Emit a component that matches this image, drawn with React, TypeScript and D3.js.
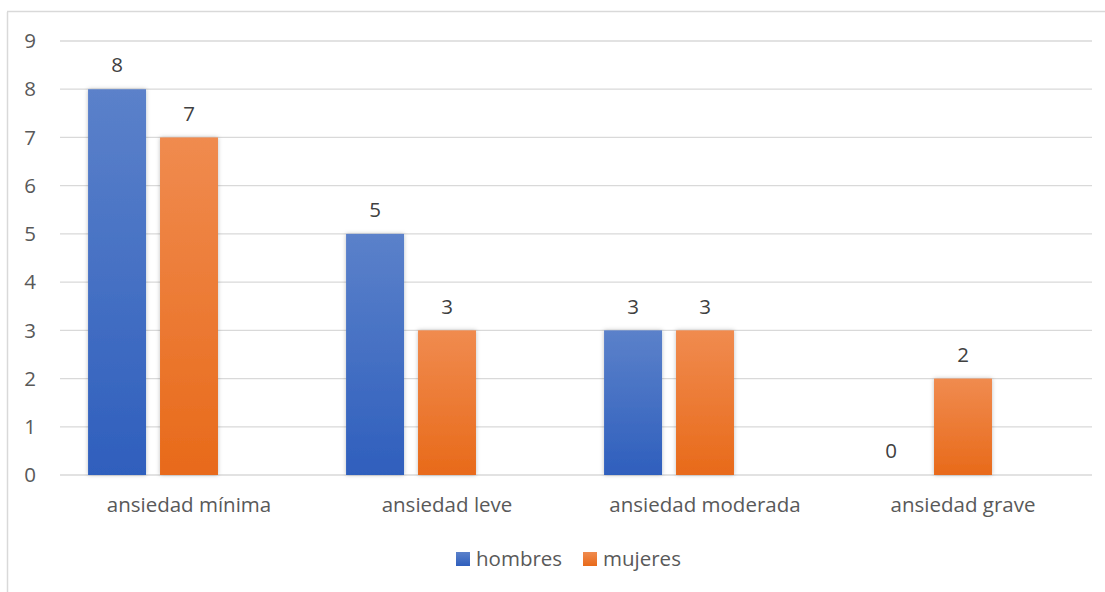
import React from "react";
import * as d3 from "d3";

const categories = ["ansiedad mínima", "ansiedad leve", "ansiedad moderada", "ansiedad grave"];
const hombres = [8, 5, 3, 0];
const mujeres = [7, 3, 3, 2];
const yTicks = [0, 1, 2, 3, 4, 5, 6, 7, 8, 9];
const seriesNames = ["hombres", "mujeres"];

const W = 1105;
const H = 592;
const plotLeft = 60;
const plotRight = 1092;
const plotTop = 41;
const plotBottom = 475;
const FONT = "'Open Sans', sans-serif";
const TXT = "#595959";
const FS = 20.5;

export default function App() {
  const x = d3.scaleBand<string>().domain(categories).range([plotLeft, plotRight]).padding(0);
  const y = d3.scaleLinear().domain([0, 9]).range([plotBottom, plotTop]);
  const bw = x.bandwidth();
  // clustered with three slots (third slot empty), as in the source
  const inner = d3.scaleBand<string>().domain(["h", "m", "_"]).range([0, bw]).paddingInner(14 / 72).paddingOuter(0.39);
  const barW = inner.bandwidth();
  const series = [
    { key: "h", values: hombres, grad: "gBlue" },
    { key: "m", values: mujeres, grad: "gOrange" },
  ];
  return (
    <svg width={W} height={H} style={{ position: "absolute", left: 0, top: 0, background: "#fff" }}>
      <defs>
        <linearGradient id="gBlue" x1="0" y1="0" x2="0" y2="1">
          <stop offset="0" stopColor="#5b81ca" />
          <stop offset="1" stopColor="#2f5fbd" />
        </linearGradient>
        <linearGradient id="gOrange" x1="0" y1="0" x2="0" y2="1">
          <stop offset="0" stopColor="#f08b4f" />
          <stop offset="1" stopColor="#e86a1a" />
        </linearGradient>
        <filter id="shadow" x="-20%" y="-5%" width="140%" height="110%">
          <feDropShadow dx="0" dy="0" stdDeviation="2" floodColor="#000" floodOpacity="0.25" />
        </filter>
      </defs>
      <rect x={0} y={0} width={W} height={H} fill="#fff" />
      <line x1={7.5} y1={12} x2={7.5} y2={H} stroke="#d9d9d9" strokeWidth={1.5} />
      <line x1={7} y1={11.5} x2={W} y2={11.5} stroke="#d9d9d9" strokeWidth={1.5} />
      {yTicks.map((t) => (
        <g key={t}>
          <line x1={plotLeft} x2={plotRight} y1={y(t)} y2={y(t)} stroke="#d9d9d9" strokeWidth={1.3} />
          <text x={36} y={y(t)} dy="0.35em" textAnchor="end" fontFamily={FONT} fontSize={FS} fill={TXT}>
            {t}
          </text>
        </g>
      ))}
      {categories.map((c, i) => (
        <g key={c}>
          {series.map((s) => {
            const v = s.values[i];
            const bx = (x(c) as number) + (inner(s.key) as number);
            return (
              <g key={s.key}>
                {v > 0 && (
                  <rect
                    x={bx}
                    y={y(v)}
                    width={barW}
                    height={y(0) - y(v)}
                    fill={`url(#${s.grad})`}
                    filter="url(#shadow)"
                  />
                )}
                <text
                  x={bx + barW / 2}
                  y={y(v) - 24}
                  dy="0.35em"
                  textAnchor="middle"
                  fontFamily={FONT}
                  fontSize={FS}
                  fill="#404040"
                >
                  {v}
                </text>
              </g>
            );
          })}
          <text
            x={(x(c) as number) + bw / 2}
            y={505}
            dy="0.35em"
            textAnchor="middle"
            fontFamily={FONT}
            fontSize={FS}
            fill={TXT}
          >
            {c}
          </text>
        </g>
      ))}
      <g>
        <rect x={456} y={552} width={14} height={14} fill="url(#gBlue)" />
        <text x={476} y={559} dy="0.35em" fontFamily={FONT} fontSize={FS} fill={TXT}>
          {seriesNames[0]}
        </text>
        <rect x={583} y={552} width={14} height={14} fill="url(#gOrange)" />
        <text x={603} y={559} dy="0.35em" fontFamily={FONT} fontSize={FS} fill={TXT}>
          {seriesNames[1]}
        </text>
      </g>
    </svg>
  );
}
